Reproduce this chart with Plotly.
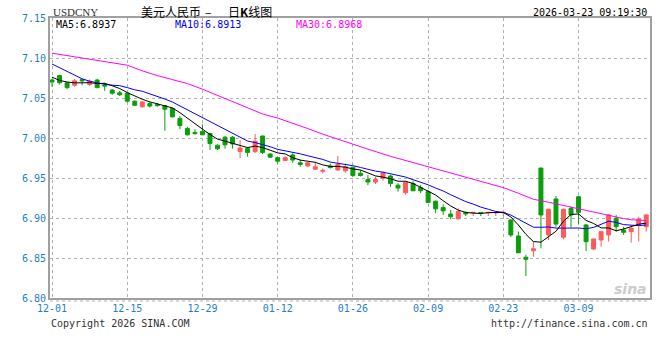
import plotly.graph_objects as go

# ---------------- data ----------------
tick_idx = [0, 10, 20, 30, 40, 50, 60, 70]
tick_labels = ["12-01", "12-15", "12-29", "01-12", "01-26", "02-09", "02-23", "03-09"]
y_ticks = [6.80, 6.85, 6.90, 6.95, 7.00, 7.05, 7.10, 7.15]

open_ = [7.0725, 7.078, 7.069, 7.066, 7.073, 7.067, 7.0725, 7.066, 7.060, 7.0565,
         7.056, 7.046, 7.039, 7.043, 7.042, 7.0405, 7.037, 7.0245, 7.012, 7.007,
         7.008, 7.0055, 6.991, 7.001, 7.001, 6.983, 6.987, 6.983, 7.0025, 6.980,
         6.9754, 6.972, 6.9788, 6.969, 6.965, 6.961, 6.9585, 6.965, 6.960, 6.959,
         6.9635, 6.956, 6.948, 6.945, 6.9496, 6.9525, 6.941, 6.9316, 6.943, 6.938,
         6.933, 6.921, 6.913, 6.905, 6.899, 6.907, 6.9065, 6.907, 6.9065, 6.9065,
         6.9065, 6.8975, 6.8775, 6.851, 6.859, 6.9625, 6.8788, 6.9238, 6.876, 6.9121,
         6.9266, 6.8913, 6.8613, 6.8725, 6.8788, 6.8996, 6.885, 6.8829, 6.8913, 6.8891]
high = [7.074, 7.079, 7.070, 7.074, 7.074, 7.073, 7.074, 7.069, 7.061, 7.059,
        7.057, 7.047, 7.046, 7.045, 7.044, 7.041, 7.038, 7.0275, 7.014, 7.011,
        7.017, 7.0065, 6.992, 7.0025, 7.0025, 6.9975, 6.989, 7.005, 7.003, 6.981,
        6.976, 6.977, 6.981, 6.973, 6.970, 6.9704, 6.962, 6.968, 6.9775, 6.968,
        6.964, 6.960, 6.954, 6.9516, 6.958, 6.954, 6.9434, 6.9455, 6.9466, 6.941,
        6.935, 6.922, 6.917, 6.910, 6.912, 6.908, 6.9075, 6.9075, 6.9075, 6.9075,
        6.9075, 6.8984, 6.883, 6.854, 6.871, 6.9625, 6.911, 6.9275, 6.9115, 6.9145,
        6.9279, 6.8925, 6.874, 6.883, 6.9046, 6.9038, 6.8891, 6.8913, 6.9016, 6.9045]
low = [7.064, 7.067, 7.061, 7.064, 7.066, 7.065, 7.062, 7.059, 7.054, 7.0525,
       7.0445, 7.040, 7.038, 7.038, 7.039, 7.009, 7.0255, 7.011, 7.003, 7.004,
       7.0035, 6.985, 6.985, 6.9866, 6.9866, 6.975, 6.9766, 6.981, 6.980, 6.9755,
       6.968, 6.9715, 6.969, 6.964, 6.964, 6.960, 6.956, 6.962, 6.959, 6.9566,
       6.9516, 6.952, 6.941, 6.9425, 6.9466, 6.939, 6.933, 6.929, 6.934, 6.931,
       6.9185, 6.906, 6.904, 6.8984, 6.898, 6.9025, 6.9025, 6.9025, 6.9025, 6.9025,
       6.9025, 6.876, 6.856, 6.8275, 6.8516, 6.862, 6.8725, 6.8891, 6.8734, 6.888,
       6.8925, 6.8588, 6.860, 6.8641, 6.8704, 6.8829, 6.8788, 6.8691, 6.8704, 6.8829]
close = [7.0700, 7.0690, 7.0630, 7.0715, 7.0715, 7.0710, 7.0630, 7.0650, 7.0560, 7.0540,
         7.0460, 7.0410, 7.0450, 7.0400, 7.0405, 7.0360, 7.0265, 7.0155, 7.0040, 7.0055,
         7.0040, 6.9930, 6.9865, 6.9915, 6.9925, 6.9875, 6.9820, 6.9960, 6.9820, 6.9760,
         6.9710, 6.9754, 6.9725, 6.9670, 6.9690, 6.9640, 6.9595, 6.9630, 6.9670, 6.9640,
         6.9530, 6.9530, 6.9450, 6.9480, 6.9566, 6.9430, 6.9375, 6.9446, 6.9340, 6.9340,
         6.9195, 6.9115, 6.9090, 6.9016, 6.9080, 6.9050, 6.9070, 6.9065, 6.9070, 6.9070,
         6.9070, 6.8788, 6.8566, 6.8484, 6.8616, 6.9038, 6.9109, 6.8925, 6.9110, 6.9038,
         6.9071, 6.8704, 6.8738, 6.8829, 6.9038, 6.8891, 6.8821, 6.8871, 6.8988, 6.9038]

ma5 = [7.0760, 7.0720, 7.0700, 7.0690, 7.0690, 7.0692, 7.0680, 7.0684, 7.0653, 7.0618,
       7.0568, 7.0524, 7.0484, 7.0452, 7.0425, 7.0405, 7.0376, 7.0317, 7.0245, 7.0175,
       7.0111, 7.0044, 6.9986, 6.9961, 6.9935, 6.9902, 6.9880, 6.9899, 6.9880, 6.9847,
       6.9814, 6.9801, 6.9754, 6.9724, 6.9710, 6.9696, 6.9664, 6.9645, 6.9645, 6.9635,
       6.9613, 6.9600, 6.9564, 6.9526, 6.9511, 6.9491, 6.9460, 6.9459, 6.9431, 6.9386,
       6.9339, 6.9287, 6.9216, 6.9151, 6.9099, 6.9070, 6.9061, 6.9056, 6.9067, 6.9065,
       6.9069, 6.9013, 6.8913, 6.8796, 6.8705, 6.8698, 6.8763, 6.8834, 6.8960, 6.9044,
       6.9051, 6.8970, 6.8932, 6.8876, 6.8876, 6.8840, 6.8863, 6.8890, 6.8922, 6.8937]
ma10 = [7.0925, 7.0880, 7.0830, 7.0780, 7.0740, 7.0710, 7.0690, 7.0670, 7.0660, 7.0654,
        7.0630, 7.0602, 7.0584, 7.0553, 7.0522, 7.0487, 7.0450, 7.0401, 7.0349, 7.0300,
        7.0258, 7.0210, 7.0152, 7.0103, 7.0055, 7.0007, 6.9962, 6.9943, 6.9921, 6.9891,
        6.9858, 6.9840, 6.9826, 6.9802, 6.9778, 6.9755, 6.9732, 6.9699, 6.9684, 6.9672,
        6.9654, 6.9632, 6.9605, 6.9586, 6.9573, 6.9552, 6.9530, 6.9512, 6.9479, 6.9449,
        6.9415, 6.9374, 6.9338, 6.9291, 6.9243, 6.9205, 6.9174, 6.9136, 6.9109, 6.9082,
        6.9070, 6.9037, 6.8985, 6.8931, 6.8885, 6.8884, 6.8888, 6.8874, 6.8878, 6.8874,
        6.8875, 6.8866, 6.8883, 6.8918, 6.8960, 6.8945, 6.8917, 6.8911, 6.8905, 6.8913]
ma30_idx = [0, 2, 4, 6, 8, 10, 12, 14, 16, 18, 20, 22, 24, 26, 28, 30, 32, 34, 36, 38,
            40, 42, 45, 47, 50, 52, 54, 56, 58, 60, 62, 64, 66, 68, 70, 72, 74, 76, 77, 78, 79]
ma30 = [7.106, 7.103, 7.100, 7.097, 7.094, 7.091, 7.084, 7.078, 7.073, 7.068,
        7.061, 7.053, 7.045, 7.037, 7.030, 7.0249, 7.0187, 7.0118, 7.0048, 6.9984,
        6.9923, 6.9861, 6.9771, 6.9718, 6.9643, 6.9590, 6.9531, 6.9479, 6.9424, 6.9380,
        6.9309, 6.9234, 6.9197, 6.9155, 6.9120, 6.9069, 6.9029, 6.8993, 6.8978, 6.8970, 6.8968]

legend_texts = ["MA5:6.8937", "MA10:6.8913", "MA30:6.8968"]
title_code = "USDCNY"
title_cn_a = "美元人民币"
title_cn_dash = "–"
title_cn_b = "日<b>K</b>线图"
stamp = "2026-03-23 09:19:30"
copyright_txt = "Copyright 2026 SINA.COM"
url_txt = "http://finance.sina.com.cn"

# ---------------- styling ----------------
W, H = 660, 360
L, R, T, B = 50, 10, 18, 62
PW, PH = W - L - R, H - T - B
MONO = "DejaVu Sans Mono"
BLUE_TXT = "#1f7fc8"
UP = "#ff5a5a"
DOWN = "#0a9e0a"


def px(x):
    return (x - L) / PW


def py(y):
    return (H - B - y) / PH


idx = list(range(len(close)))

fig = go.Figure()
fig.add_trace(go.Candlestick(
    x=idx, open=open_, high=high, low=low, close=close,
    increasing=dict(line=dict(color=UP, width=1), fillcolor=UP),
    decreasing=dict(line=dict(color=DOWN, width=1), fillcolor=DOWN),
    whiskerwidth=0, hoverinfo="skip", showlegend=False,
))
fig.add_trace(go.Scatter(x=ma30_idx, y=ma30, mode="lines",
                         line=dict(color="#ff00ff", width=1), hoverinfo="skip", showlegend=False))
fig.add_trace(go.Scatter(x=idx, y=ma10, mode="lines",
                         line=dict(color="#0000ff", width=1), hoverinfo="skip", showlegend=False))
fig.add_trace(go.Scatter(x=idx, y=ma5, mode="lines",
                         line=dict(color="#000000", width=1), hoverinfo="skip", showlegend=False))

ann = []
ann.append(dict(text=title_code, x=px(51), y=py(12), xanchor="left", yanchor="middle",
                font=dict(family="Liberation Serif", size=11, color="#333333")))
ann.append(dict(text=title_cn_a, x=px(139), y=py(11), xanchor="left", yanchor="middle",
                font=dict(family="Noto Sans CJK SC", size=12, color="#000000")))
ann.append(dict(text=title_cn_dash, x=px(208), y=py(11), xanchor="center", yanchor="middle",
                font=dict(family="Noto Sans CJK SC", size=12, color="#000000")))
ann.append(dict(text=title_cn_b, x=px(226), y=py(11), xanchor="left", yanchor="middle",
                font=dict(family="Noto Sans CJK SC", size=12, color="#000000")))
ann.append(dict(text=stamp, x=px(649), y=py(12), xanchor="right", yanchor="middle",
                font=dict(family=MONO, size=10, color="#000000")))
for t, xpos, col in zip(legend_texts, [54, 173, 294], ["#000000", "#0000ff", "#ff00ff"]):
    ann.append(dict(text=t, x=px(xpos), y=py(24), xanchor="left", yanchor="middle",
                    font=dict(family=MONO, size=10, color=col)))
ann.append(dict(text=copyright_txt, x=px(49), y=py(323), xanchor="left", yanchor="middle",
                font=dict(family=MONO, size=10, color="#333333")))
ann.append(dict(text=url_txt, x=px(650), y=py(323), xanchor="right", yanchor="middle",
                font=dict(family=MONO, size=10, color="#333333")))
ann.append(dict(text="<i><b>sina</b></i>", x=px(649), y=py(289), xanchor="right", yanchor="middle",
                font=dict(family="DejaVu Sans", size=14, color="#cccccc")))
for a in ann:
    a.update(xref="paper", yref="paper", showarrow=False)

fig.update_layout(
    width=W, height=H,
    margin=dict(l=L, r=R, t=T, b=B, pad=0, autoexpand=False),
    paper_bgcolor="white", plot_bgcolor="white",
    boxgap=0.25,
    hovermode=False,
    showlegend=False,
    annotations=ann,
    shapes=[dict(type="line", xref="paper", yref="paper", x0=0, x1=1,
                 y0=-3 / PH, y1=-3 / PH, line=dict(color="#b0b0b0", width=1, dash="dot"))],
)
fig.update_xaxes(
    range=[-0.27, 79.5], tickmode="array", tickvals=tick_idx, ticktext=tick_labels,
    showgrid=True, gridcolor="#b0b0b0", griddash="dot", gridwidth=1,
    showline=True, linecolor="#a0a0a0", linewidth=2, mirror=True,
    ticks="", zeroline=False, rangeslider=dict(visible=False), automargin=False,
    tickfont=dict(family=MONO, size=10, color=BLUE_TXT),
)
fig.update_yaxes(
    range=[6.80, 7.15], tickmode="array", tickvals=y_ticks,
    ticktext=[f"{v:.2f}" for v in y_ticks],
    showgrid=True, gridcolor="#b0b0b0", griddash="dot", gridwidth=1,
    showline=True, linecolor="#a0a0a0", linewidth=2, mirror=True,
    ticks="", zeroline=False, automargin=False,
    tickfont=dict(family=MONO, size=10, color=BLUE_TXT),
)

# remove the browser's default 8px page margin so the figure sits at the top-left corner
fig.write_html("out.html",
               config={"displayModeBar": False, "staticPlot": True},
               post_script="document.body.style.margin='0px';document.body.style.overflow='hidden';")
